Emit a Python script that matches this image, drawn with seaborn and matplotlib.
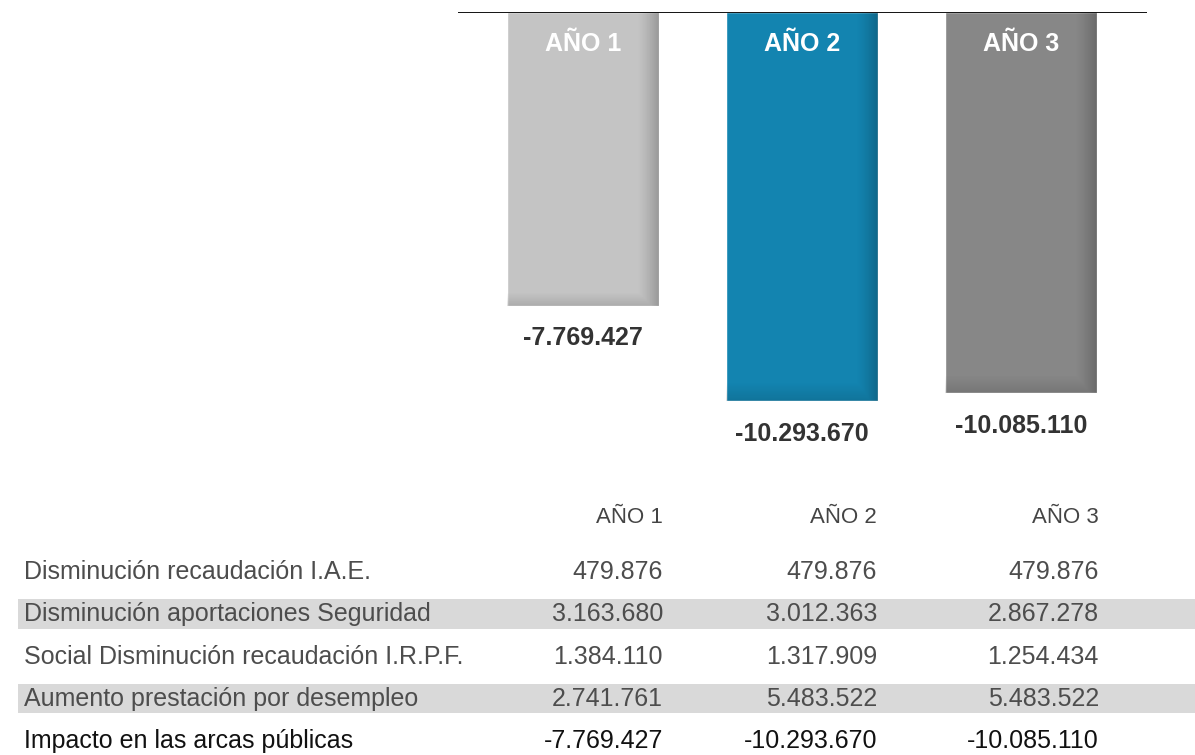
import numpy as np
import pandas as pd
import matplotlib
matplotlib.use("Agg")
import matplotlib.pyplot as plt
import seaborn as sns
from matplotlib import font_manager

# --- data ---
years = ["AÑO 1", "AÑO 2", "AÑO 3"]
impacto = [-7769427, -10293670, -10085110]
bar_colors = ["#c4c4c4", "#1384b0", "#878787"]

row_labels = [
    "Disminución recaudación I.A.E.",
    "Disminución aportaciones Seguridad",
    "Social Disminución recaudación I.R.P.F.",
    "Aumento prestación por desempleo",
    "Impacto en las arcas públicas",
]
iae = [479876, 479876, 479876]
seg_social = [3163680, 3012363, 2867278]
irpf = [1384110, 1317909, 1254434]
desempleo = [2741761, 5483522, 5483522]


def fmt(v):
    return f"{v:,}".replace(",", ".")


names = {f.name for f in font_manager.fontManager.ttflist}
narrow = "Liberation Sans Narrow" if "Liberation Sans Narrow" in names else (
    "DejaVu Sans Condensed" if "DejaVu Sans Condensed" in names else "Liberation Sans")

sns.set_style("white")
plt.rcParams["font.family"] = [narrow, "DejaVu Sans"]

fig = plt.figure(figsize=(11.95, 7.55), dpi=100)

# --- bar chart (hanging from the top line) ---
ax = fig.add_axes([458 / 1195, 1 - 447 / 755, 689 / 1195, 435 / 755])
df = pd.DataFrame({"year": years, "value": np.array(impacto) / 1e6})
sns.barplot(data=df, x="year", y="value", hue="year", palette=bar_colors,
            width=0.694, legend=False, ax=ax, saturation=1)

# soft shading on the right and bottom edge of each bar
gx = np.linspace(0, 1, 200)
gy = np.linspace(0, 1, 300)
shade_x = np.clip((gx - 0.86) / 0.14, 0, 1) ** 1.3 * 0.22
for p in ax.patches:
    x0, w = p.get_x(), p.get_width()
    y0, h = p.get_y(), p.get_height()
    # bottom fade: last ~4% of the bar length
    shade_y = np.clip((gy - 0.955) / 0.045, 0, 1) * 0.12
    img = np.zeros((300, 200, 4))
    img[..., 3] = np.maximum(shade_x[None, :], shade_y[:, None])
    im = ax.imshow(img, extent=[x0, x0 + w, y0 + h, y0], aspect="auto",
                   origin="upper", zorder=p.get_zorder() + 0.1,
                   interpolation="bilinear")
    im.set_clip_path(p)

for i, (lab, v) in enumerate(zip(years, impacto)):
    ax.text(i, -0.85, lab, ha="center", va="center", color="white",
            fontsize=18, fontweight="bold")
    ax.text(i, v / 1e6 - 0.85, fmt(v), ha="center", va="center",
            color="#333333", fontsize=18, fontweight="bold")

ax.axhline(0, color="black", lw=1.3, zorder=5)
ax.set_xlim(-0.571, 2.575)
ax.set_ylim(-11.5, 0)
ax.set_axis_off()

# --- table ---
tab = fig.add_axes([0, 0, 1, 265 / 755])
tab.set_xlim(0, 1195)
tab.set_ylim(4.33, -1.94)
tab.set_axis_off()

cols = [iae, seg_social, irpf, desempleo, impacto]
col_right = [663, 877, 1099]
for c, lab in zip(col_right, years):
    tab.text(c, -1.28, lab, ha="right", va="center",
             fontsize=16, color="#444444")

for r, (lab, vals) in enumerate(zip(row_labels, cols)):
    if r % 2 == 1:
        tab.axhspan(r - 0.36, r + 0.34, xmin=18 / 1195, xmax=1,
                    color="#d9d9d9", lw=0, zorder=0)
    last = r == len(row_labels) - 1
    color = "#111111" if last else "#4d4d4d"
    tab.text(24, r, lab, ha="left", va="center", fontsize=18, color=color)
    for c, v in zip(col_right, vals):
        tab.text(c, r, fmt(v), ha="right", va="center", fontsize=18, color=color)

fig.savefig("out.png", dpi=100)
